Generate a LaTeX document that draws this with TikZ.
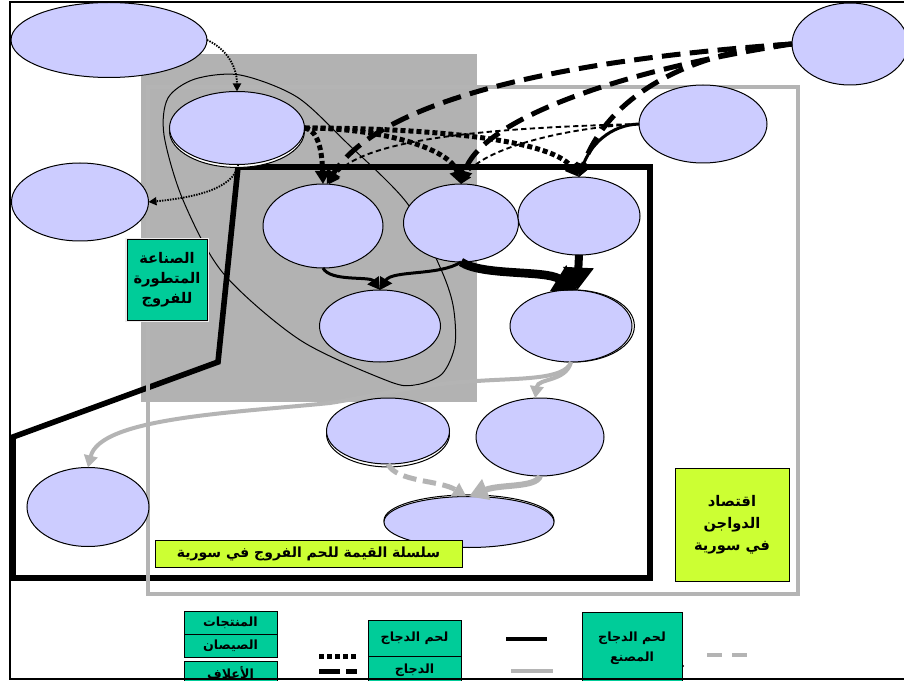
\documentclass[tikz,border=0pt]{standalone}
\usepackage{fontspec}
\usetikzlibrary{shapes.geometric,arrows.meta,shadows}
\newfontfamily\arabicfont[Script=Arabic]{DejaVu Sans}
\TeXXeTstate=1
\definecolor{ellfill}{RGB}{204,204,255}
\definecolor{boxgreen}{RGB}{0,204,153}
\definecolor{boxlime}{RGB}{204,255,51}
\definecolor{panelgray}{RGB}{178,178,178}
\definecolor{linkgray}{RGB}{180,180,180}

\begin{document}
\begin{tikzpicture}[x=0.75pt,y=-0.75pt,
  ell/.style={ellipse, draw=black, fill=ellfill, line width=0.75pt, inner sep=0pt, outer sep=0pt},
  rimdown/.style={copy shadow={shadow xshift=0pt, shadow yshift=-2.2pt, fill=white, draw=black}},
  rimright/.style={copy shadow={shadow xshift=1.8pt, shadow yshift=0pt, fill=white, draw=black}},
  rimup/.style={copy shadow={shadow xshift=0pt, shadow yshift=1.2pt, fill=white, draw=black}},
  label/.style={draw=black, line width=0.75pt, inner sep=0pt, align=center,
                font=\arabicfont\bfseries\fontsize{9.5}{15}\selectfont},
  greenbox/.style={label, fill=boxgreen},
  limebox/.style={label, fill=boxlime},
  dotthin/.style={line width=1.4pt, dash pattern=on 1.1pt off 0.9pt, -{Triangle[length=6pt,width=6pt]}},
  dotthick/.style={line width=3.75pt, dash pattern=on 3.75pt off 2.25pt, -{Triangle[length=10pt,width=11pt]}},
  dashthick/.style={line width=3.75pt, dash pattern=on 14pt off 7pt, -{Triangle[length=10pt,width=11pt]}},
  dashthin/.style={line width=1.4pt, dash pattern=on 4pt off 2.5pt, -{Triangle[length=8pt,width=8pt]}},
  solidmed/.style={line width=2.25pt, -{Triangle[length=9pt,width=10pt]}},
  solidheavy/.style={line width=6.5pt, -{Triangle[length=17pt,width=22pt]}},
  graylink/.style={draw=linkgray, line width=3pt, -{Triangle[length=9pt,width=10pt]}},
  graydash/.style={draw=linkgray, line width=3.75pt, dash pattern=on 10pt off 5pt, -{Triangle[length=10pt,width=11pt]}},
  grayheavy/.style={draw=linkgray, line width=4.5pt, -{Triangle[length=14pt,width=16pt]}}
]
\useasboundingbox (0,0) rectangle (904,681);
\fill[white] (0,0) rectangle (904,681);

% grey panel of the advanced broiler industry
\fill[panelgray] (141,54) rectangle (477,402);

% heavy outline of the value chain
\draw[line width=4.2pt, line join=miter] (238,167) -- (650,167) -- (650,578) -- (13,578) -- (13,437) -- (218,362) -- cycle;

% light frame of the poultry economy
\draw[linkgray, line width=2.4pt] (148,87) rectangle (798,594);

% thin loop grouping the industry nodes
\draw[line width=0.75pt] plot[smooth cycle] coordinates {
  (240,75) (297,97) (347,143) (407,203) (440,267) (453,305) (455,345)
  (442,374) (415,385) (388,381) (300,340) (223,273) (183,200) (164,135)
  (168,98) (195,79)};

% ellipses
\node[ell, minimum width=147pt, minimum height=56.25pt] (A) at (109,40) {};
\node[ell, rimdown, minimum width=101.25pt, minimum height=54.75pt] (B) at (237,128) {};
\node[ell, minimum width=102.75pt, minimum height=58.5pt] (C) at (80,202) {};
\node[ell, minimum width=87pt, minimum height=61.5pt] (D) at (850,44) {};
\node[ell, minimum width=96pt, minimum height=58.5pt] (E) at (703,124) {};
\node[ell, minimum width=90pt, minimum height=63pt] (F1) at (323,226) {};
\node[ell, minimum width=86.25pt, minimum height=58.5pt] (F2) at (461,223) {};
\node[ell, minimum width=91.5pt, minimum height=58.5pt] (F3) at (579,216) {};
\node[ell, minimum width=90.75pt, minimum height=54pt] (G1) at (380,326) {};
\node[ell, rimright, minimum width=91.5pt, minimum height=54pt] (G2) at (571,326) {};
\node[ell, rimdown, minimum width=92.25pt, minimum height=49.5pt] (H1) at (388,431) {};
\node[ell, minimum width=96pt, minimum height=58.5pt] (H2) at (540,437) {};
\node[ell, minimum width=91.5pt, minimum height=59.25pt] (I) at (88,507) {};
\node[ell, rimup, minimum width=127.5pt, minimum height=38.25pt] (J) at (469,522) {};

% captions
\node[greenbox, minimum width=60pt, minimum height=60pt,
      font=\arabicfont\bfseries\fontsize{11}{15}\selectfont,
      preaction={draw=white!85!gray, line width=3pt}] (industry) at (167,280)
  {\beginR الصناعة\endR\\\beginR المتطورة\endR\\\beginR للفروج\endR};
\node[limebox, minimum width=85.5pt, minimum height=84.75pt,
      font=\arabicfont\bfseries\fontsize{11}{16.5}\selectfont] (economy) at (732,524.5)
  {\beginR اقتصاد\endR\\\beginR الدواجن\endR\\\beginR في سورية\endR};
\node[limebox, minimum width=230.25pt, minimum height=20.25pt,
      font=\arabicfont\bfseries\fontsize{10.5}{14}\selectfont] (chain) at (308.5,553.5)
  {\beginR سلسلة القيمة للحم الفروج في سورية\endR};

% grey flows
\draw[graylink] (G2.south) .. controls (565,380) and (520,378) .. (477,381)
  .. controls (420,384) and (380,395) .. (330,403)
  .. controls (230,413) and (100,418) .. (I.north);
\draw[graylink] (G2.south) .. controls (566,382) and (538,378) .. (H2.97);
\draw[graydash] (H1.south) .. controls (396,482) and (440,480) .. (J.96);
\draw[grayheavy] (H2.south) .. controls (536,488) and (500,484) .. (J.north);

% black flows
\draw[dotthin] (A.east) .. controls (225,48) and (237,65) .. (B.north);
\draw[dotthin] (B.-88) .. controls (234,190) and (190,198) .. (C.east);
\draw[dotthick] (B.east) .. controls (318,130) and (322,150) .. (F1.north);
\draw[dotthick] (B.east) .. controls (380,128) and (450,148) .. (F2.north);
\draw[dotthick] (B.east) .. controls (420,128) and (550,138) .. (F3.north);
\draw[dashthick] (D.west) .. controls (560,60) and (380,100) .. (F1.85);
\draw[dashthick] (D.west) .. controls (620,70) and (480,120) .. (F2.north);
\draw[dashthick] (D.west) .. controls (700,50) and (610,90) .. (F3.north);
\draw[dashthin] (E.west) .. controls (480,128) and (360,140) .. (F1.82);
\draw[dashthin] (E.west) .. controls (560,128) and (480,150) .. (F2.north);
\draw[solidmed] (E.west) .. controls (610,125) and (590,145) .. (F3.north);
\draw[solidmed] (F1.south) .. controls (330,282) and (370,276) .. (G1.north);
\draw[solidmed] (F2.south) .. controls (440,276) and (392,270) .. (G1.north);
\draw[solidheavy] (F2.south) .. controls (482,276) and (545,270) .. (G2.80);
\draw[solidheavy, line width=6pt] (F3.south) -- (G2.80);

% key
\node[greenbox, minimum width=69.75pt, minimum height=17.25pt] (kProducts) at (230.5,622.5) {\beginR المنتجات\endR};
\node[greenbox, minimum width=69.75pt, minimum height=17.25pt] (kChicks) at (230.5,645.5) {\beginR الصيصان\endR};
\node[greenbox, minimum width=69.75pt, minimum height=17.25pt] (kFeed) at (230.5,672.5) {\beginR الأعلاف\endR};
\node[greenbox, minimum width=69.75pt, minimum height=27pt] (kMeat) at (414.5,638) {\beginR لحم الدجاج\endR};
\node[greenbox, minimum width=69.75pt, minimum height=21pt] (kBirds) at (414.5,670) {\beginR الدجاج\endR};
\node[greenbox, minimum width=75pt, minimum height=54pt] (kProcessed) at (632,648) {\beginR لحم الدجاج\endR\\\beginR المصنع\endR};
\draw[line width=3.75pt, dash pattern=on 3.75pt off 2.25pt] (319,656) -- (357,656);
\draw[line width=3.75pt, dash pattern=on 15.75pt off 4.5pt] (319,671) -- (357,671);
\draw[line width=3pt] (506,639) -- (547,639);
\draw[linkgray, line width=3pt] (511,671) -- (553,671);
\fill (683,666) circle[radius=1.2];
\draw[linkgray, line width=3pt, dash pattern=on 11.25pt off 7.5pt] (707,655) -- (747,655);

% outer border
\draw[line width=1.6pt] (906,2) -- (10,2) -- (10,679) -- (906,679);
\end{tikzpicture}
\end{document}
